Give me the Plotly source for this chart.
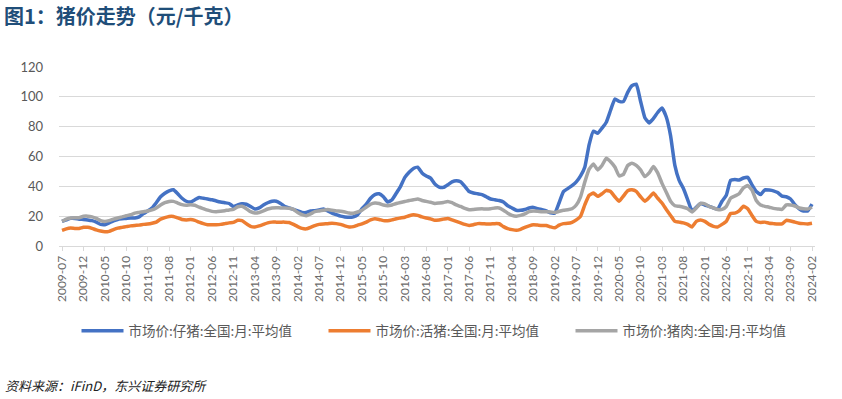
import plotly.graph_objects as go

# months 2009-07 .. 2024-02
months = []
y, m = 2009, 7
while (y, m) <= (2024, 2):
    months.append(f"{y}-{m:02d}")
    m += 1
    if m > 12:
        m = 1
        y += 1

piglet = [
    # 2009-07..2009-12
    16.5, 17.5, 18.5, 18.5, 18.0, 17.8,
    # 2010
    17.5, 17.0, 16.0, 14.5, 14.3, 15.5, 16.8, 17.8, 18.2, 18.5, 18.8, 18.8,
    # 2011
    19.5, 21.7, 23.5, 25.5, 29.0, 33.0, 35.4, 37.0, 37.7, 35.0, 32.0, 30.0,
    # 2012
    29.5, 31.0, 32.5, 32.0, 31.5, 31.0, 30.2, 29.5, 29.0, 28.5, 26.5, 27.5,
    # 2013
    28.3, 28.0, 26.5, 24.8, 25.5, 27.5, 29.0, 30.0, 30.0, 28.5, 26.5, 25.5,
    # 2014
    24.5, 23.5, 22.5, 22.5, 23.5, 23.7, 24.2, 24.8, 23.5, 22.0, 21.0, 20.0,
    # 2015
    19.5, 19.2, 19.5, 21.0, 25.0, 28.0, 32.0, 34.5, 35.0, 33.0, 29.5, 31.0,
    # 2016
    35.4, 40.0, 46.0, 49.5, 52.0, 52.8, 49.0, 47.0, 45.5, 41.5, 39.5, 39.3,
    # 2017
    41.0, 43.0, 43.8, 43.0, 40.0, 36.5, 35.5, 35.0, 34.5, 33.0, 31.5, 31.0,
    # 2018
    30.5, 29.5, 27.0, 25.5, 24.0, 23.9, 24.5, 25.5, 25.9, 25.0, 24.3, 23.5,
    # 2019
    22.2, 22.1, 29.0, 36.5, 38.5, 40.5, 43.0, 47.0, 53.0, 68.0, 77.0, 75.5,
    # 2020
    79.0, 83.0, 91.0, 98.5, 97.0, 96.8, 103.0, 107.5, 108.5, 97.0, 86.0, 82.5,
    # 2021
    85.5, 89.5, 92.5, 86.5, 74.0, 54.0, 44.0, 38.5, 31.0, 23.5, 26.0, 28.5,
    # 2022
    27.5, 26.6, 25.5, 24.8, 30.0, 34.0, 44.0, 44.5, 44.3, 45.6, 46.0, 41.0,
    # 2023
    36.5, 34.5, 37.7, 37.5, 37.0, 35.8, 33.5, 33.0, 31.5, 27.7, 25.0, 23.5,
    # 2024
    23.5, 28.0,
]

live_hog = [
    10.5, 11.5, 12.0, 11.8, 11.8, 12.5,
    12.5, 11.8, 10.8, 10.0, 9.5, 9.8, 11.0, 12.0, 12.5, 13.0, 13.5, 13.8,
    14.0, 14.5, 14.8, 15.3, 16.0, 18.0, 19.0, 19.8, 19.8, 18.8, 17.8, 17.5,
    17.7, 17.2, 16.0, 15.0, 14.3, 14.2, 14.3, 14.5, 15.0, 15.5, 15.8, 17.2,
    17.0, 15.0, 13.2, 12.8, 13.5, 14.5, 15.5, 16.0, 16.0, 16.0, 16.0, 15.8,
    14.5, 13.0, 11.8, 11.5, 12.5, 13.7, 14.5, 14.8, 15.0, 15.3, 15.0, 14.5,
    13.5, 12.8, 13.0, 14.0, 14.8, 16.0, 17.5, 18.3, 17.8, 17.0, 16.9, 17.5,
    18.3, 18.8, 19.3, 20.3, 21.0, 20.5, 19.5, 18.8, 18.2, 17.2, 17.5, 18.0,
    18.5, 17.5, 16.5, 15.5, 14.5, 13.8, 14.3, 15.0, 15.0, 14.8, 14.8, 15.0,
    14.9, 13.0, 11.7, 11.0, 10.5, 11.2, 12.5, 13.5, 14.2, 14.0, 13.8, 13.8,
    12.8, 12.2, 14.0, 15.0, 15.2, 15.9, 17.5, 20.0, 27.7, 34.0, 35.5, 33.3,
    35.0, 37.3, 36.5, 33.0, 30.0, 33.5, 37.0, 37.7, 36.6, 33.0, 30.0, 32.5,
    35.5, 32.0, 28.8, 24.5, 20.5, 16.5, 16.0, 15.5, 14.5, 12.8, 16.5, 17.5,
    16.5, 14.5, 13.2, 12.8, 14.5, 16.5, 21.8, 22.0, 23.5, 26.6, 25.0, 20.5,
    16.5, 15.8, 16.0, 15.3, 15.0, 14.7, 14.8, 17.2, 16.8, 16.0, 15.3, 15.0,
    14.8, 15.3,
]

pork = [
    16.5, 18.0, 18.8, 19.0, 19.0, 19.9,
    20.0, 19.5, 18.5, 17.0, 16.5, 17.0, 18.0, 18.8, 19.5, 20.3, 21.0, 22.0,
    22.5, 23.0, 23.5, 24.2, 25.5, 27.5, 29.0, 29.9, 29.9, 28.8, 27.7, 27.3,
    27.7, 27.3, 26.0, 25.0, 24.0, 23.2, 23.0, 23.3, 23.7, 24.2, 24.5, 26.3,
    26.6, 25.0, 23.0, 22.1, 22.5, 23.5, 24.8, 25.5, 25.7, 25.5, 25.5, 25.3,
    24.5, 22.5, 21.0, 20.3, 21.5, 23.0, 23.5, 24.0, 24.4, 24.0, 23.5, 23.3,
    22.8, 22.1, 22.0, 22.8, 24.0, 26.0, 28.0, 28.8, 28.5, 27.5, 27.0, 27.5,
    28.5, 29.2, 29.8, 30.5, 31.0, 31.5, 30.5, 29.9, 29.3, 28.5, 28.8, 29.2,
    29.9, 29.0, 27.5, 26.5, 25.2, 24.3, 24.5, 24.8, 24.9, 24.8, 25.0, 25.5,
    25.5, 24.0, 22.0, 20.5, 20.0, 20.5, 21.5, 23.0, 23.5, 23.3, 23.0, 23.0,
    22.8, 22.5, 23.2, 24.0, 24.3, 25.0, 27.5, 33.0, 43.0, 51.5, 55.0, 51.0,
    54.0, 58.8, 56.5, 53.0, 47.0, 48.0, 54.0, 55.5, 54.0, 51.0, 46.6, 49.0,
    53.3, 49.0, 42.0, 36.0, 30.0, 27.0, 26.6, 26.0, 25.0, 22.8, 25.5, 28.5,
    28.3, 26.5, 25.5, 24.5, 24.5, 26.5, 32.0, 33.5, 35.0, 39.0, 40.5, 37.5,
    30.5, 27.5, 26.6, 26.0, 25.2, 24.8, 24.5, 27.5, 27.5, 26.8, 25.5, 25.0,
    24.8, 26.0,
]

series_names = ["市场价:仔猪:全国:月:平均值", "市场价:活猪:全国:月:平均值", "市场价:猪肉:全国:月:平均值"]
series_colors = ["#4472C4", "#ED7D31", "#A5A5A5"]
y_ticks = [0, 20, 40, 60, 80, 100, 120]
x_tick_labels = months[::5]

fig = go.Figure()
for name, vals, col in zip(series_names, [piglet, live_hog, pork], series_colors):
    fig.add_trace(go.Scatter(
        x=months, y=vals, mode="lines", name=name,
        line=dict(color=col, width=3.5, shape="spline", smoothing=0.4),
    ))

tick_font = dict(family="Lato, 'Noto Sans CJK SC', sans-serif", size=13, color="#595959")

fig.update_layout(
    width=842, height=399,
    margin=dict(l=59, r=27, t=67, b=153, autoexpand=False),
    paper_bgcolor="white", plot_bgcolor="white",
    showlegend=True,
    legend=dict(
        orientation="h", x=0.5 + 10 / 756, xanchor="center", y=-0.475, yanchor="middle",
        font=dict(family="'Noto Sans CJK SC', sans-serif", size=13.5, color="#595959"),
        entrywidth=190, entrywidthmode="pixels",
        itemwidth=42,
    ),
    xaxis=dict(
        type="category", range=[-0.7, len(months) - 0.3],
        tickmode="array", tickvals=x_tick_labels, ticktext=x_tick_labels,
        tickangle=-90, tickfont=dict(family="Lato, sans-serif", size=12, color="#6A6A6A"),
        showgrid=False, showline=True, linecolor="#D9D9D9", linewidth=1,
        ticks="outside", ticklen=4, tickcolor="#D9D9D9",
        zeroline=False, fixedrange=True,
    ),
    yaxis=dict(
        range=[0, 120], tickvals=y_ticks, tickfont=tick_font,
        showgrid=True, gridcolor="#D9D9D9", gridwidth=1,
        zeroline=False, showline=False, ticklabelstandoff=15,
    ),
)

fig.add_annotation(
    xref="paper", yref="paper", x=-57 / 756, y=(246 - 15) / 179,
    text="<b>图1：猪价走势（元/千克）</b>", showarrow=False,
    xanchor="left", yanchor="middle",
    font=dict(family="'Noto Sans CJK SC', sans-serif", size=20, color="#1F4E79"),
)
fig.add_annotation(
    xref="paper", yref="paper", x=-56 / 756, y=(246 - 385) / 179,
    text="<i>资料来源：iFinD，东兴证券研究所</i>", showarrow=False,
    xanchor="left", yanchor="middle",
    font=dict(family="'Noto Sans CJK SC', sans-serif", size=13, color="#222222"),
)

fig.write_html(
    "out.html",
    config={"displayModeBar": False, "staticPlot": True},
    post_script="document.body.style.margin='0';document.body.style.padding='0';",
)
